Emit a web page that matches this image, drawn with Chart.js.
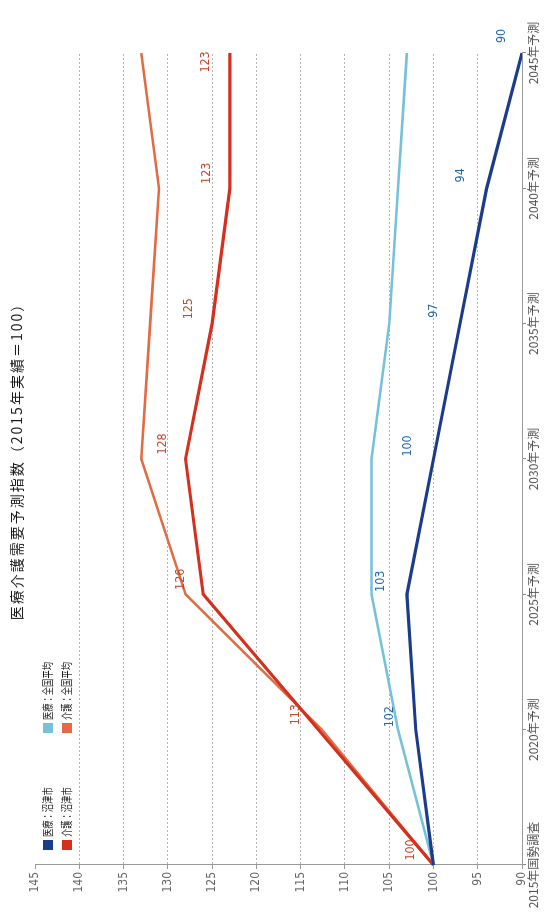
<!DOCTYPE html>
<html><head><meta charset="utf-8">
<script src="https://cdn.jsdelivr.net/npm/chart.js@4"></script>
<style>
html,body{margin:0;padding:0;background:#fff;overflow:hidden;width:554px;height:915px;}
#wrap{position:absolute;left:0;top:0;width:915px;height:554px;transform-origin:0 0;transform:translate(0,915px) rotate(-90deg);}
canvas{display:block;}
</style></head><body>
<div id="wrap"><canvas id="c" width="915" height="554"></canvas></div>
<script>
// ---- data ----
const years = ['2015年国勢調査','2020年予測','2025年予測','2030年予測','2035年予測','2040年予測','2045年予測'];
const seriesNames = ['医療：沼津市','医療：全国平均','介護：沼津市','介護：全国平均'];
const medicalNumazu   = [100, 102, 103, 100, 97, 94, 90];
const medicalNational = [100, 104, 107, 107, 105, 104, 103];
const careNumazu      = [100, 113, 126, 128, 125, 123, 123];
const careNational    = [100, 112.6, 128, 133, 132, 131, 133];
const valueTicks = [90, 95, 100, 105, 110, 115, 120, 125, 130, 135, 140, 145];
const titleText = '医療介護需要予測指数（2015年実績＝100）';

// ---- styles ----
const colors = ['#1b3b8b', '#74c1d9', '#d5301d', '#e26b44'];
const widths = [3.2, 2.6, 3.2, 2.6];
const labelStyles = [
  {show: true, from: 1, color: '#1f67aa', dx: 13, dy: -26, lastDx: 17, lastDy: -20},
  {show: false},
  {show: true, from: 0, color: '#c9452b', dx: 15, dy: -23, lastDx: -9, lastDy: -24},
  {show: false}
];
const CJK = "'Noto Sans CJK JP', 'Noto Sans', sans-serif";
const NARROW = "'Liberation Sans Narrow', 'DejaVu Sans Condensed', 'Roboto', sans-serif";

function drawText(ctx, text, x, y, font, color, sx, align, spacing) {
  ctx.save();
  ctx.font = font; ctx.fillStyle = color;
  ctx.textBaseline = 'middle'; ctx.textAlign = align || 'left';
  if (spacing) { try { ctx.letterSpacing = spacing; } catch (e) {} }
  ctx.translate(x, y); ctx.scale(sx || 1, 1);
  ctx.fillText(text, 0, 0);
  ctx.restore();
}

const overlay = {
  id: 'overlay',
  afterDatasetsDraw(chart) {
    const ctx = chart.ctx;
    chart.data.datasets.forEach((ds, i) => {
      const st = labelStyles[i];
      if (!st.show) return;
      const meta = chart.getDatasetMeta(i);
      meta.data.forEach((pt, j) => {
        if (j < st.from) return;
        const last = j === meta.data.length - 1;
        const x = pt.x + (last ? st.lastDx : st.dx);
        const y = pt.y + (last ? st.lastDy : st.dy);
        drawText(ctx, String(Math.round(ds.data[j])), x, y, '13px ' + NARROW, st.color, 0.95, 'center');
      });
    });
  },
  afterDraw(chart) {
    const ctx = chart.ctx;
    // title
    drawText(ctx, titleText, 457, 17, '14px ' + CJK, '#1a1a1a', 1, 'center', '2px');
    // legend (2 x 2)
    const pos = [[65, 48], [182, 48], [65, 67], [182, 67]];
    chart.data.datasets.forEach((ds, i) => {
      const [x, y] = pos[i];
      ctx.save();
      ctx.fillStyle = colors[i];
      ctx.fillRect(x, y - 5, 10, 10);
      ctx.restore();
      drawText(ctx, ds.label, x + 13, y, '11.5px ' + CJK, '#1a1a1a', 0.72, 'left');
    });
  }
};

const datasets = [medicalNumazu, medicalNational, careNumazu, careNational].map((d, i) => ({
  label: seriesNames[i],
  data: d,
  borderColor: colors[i],
  backgroundColor: colors[i],
  borderWidth: widths[i],
  pointRadius: 0,
  tension: 0,
  fill: false
}));

new Chart(document.getElementById('c'), {
  type: 'line',
  data: { labels: years, datasets },
  options: {
    responsive: false,
    animation: false,
    layout: { padding: { top: 35, right: 53, bottom: 0, left: 0 } },
    plugins: { legend: { display: false }, title: { display: false }, tooltip: { enabled: false } },
    scales: {
      x: {
        type: 'category',
        offset: false,
        afterFit(s) { s.height = 32; },
        grid: { drawOnChartArea: false, drawTicks: true, tickLength: 4, color: '#888', tickColor: '#888' },
        border: { display: true, color: '#999', width: 1 },
        ticks: { color: '#555', font: { family: CJK, size: 12 }, padding: 0, maxRotation: 0, autoSkip: false }
      },
      y: {
        min: 90, max: 145,
        afterFit(s) { s.width = 50; },
        afterBuildTicks(s) { s.ticks = valueTicks.map(v => ({ value: v })); },
        grid: {
          color: c => (c.tick && (c.tick.value === 145 || c.tick.value === 90)) ? 'rgba(0,0,0,0)' : '#b4b4b4',
          tickColor: '#999', tickLength: 4, lineWidth: 1
        },
        border: { display: true, color: '#999', width: 1, dash: [2, 2] },
        ticks: { color: '#666', font: { family: NARROW, size: 12 }, padding: 3 }
      }
    }
  },
  plugins: [overlay]
});
</script>
</body></html>
